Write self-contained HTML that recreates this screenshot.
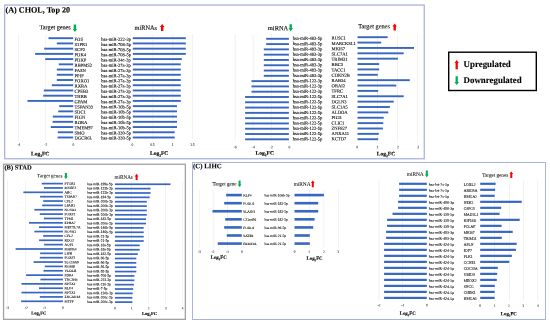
<!DOCTYPE html>
<html><head><meta charset="utf-8"><style>
html,body{margin:0;padding:0;background:#fff;}
body{width:550px;height:324px;position:relative;overflow:hidden;font-family:"Liberation Serif",serif;}
body>div,body>span{position:absolute;}
.t{white-space:nowrap;color:#000;}
</style></head><body>
<svg style="position:absolute;left:0;top:0" width="550" height="324" viewBox="0 0 550 324">
<rect x="4.65" y="5.05" width="419.60" height="153.70" fill="none" stroke="#aab3da" stroke-width="1.3"/>
<rect x="3.55" y="164.25" width="181.80" height="155.10" fill="none" stroke="#a2a2a2" stroke-width="1.3"/>
<rect x="192.50" y="162.50" width="353.00" height="157.00" fill="none" stroke="#aab3da" stroke-width="1"/>
<g transform="translate(72.10,24.40)"><polygon points="2.80,7.50 5.10,4.50 4.00,4.50 4.00,0.00 1.60,0.00 1.60,4.50 0.50,4.50" fill="#00b050"/></g>
<g transform="translate(159.40,24.00)"><polygon points="2.80,0.00 5.10,3.00 4.00,3.00 4.00,6.90 1.60,6.90 1.60,3.00 0.50,3.00" fill="#ff0000"/></g>
<rect x="18.40" y="34.00" width="0.60" height="105.50" fill="#e9e9e9"/>
<rect x="45.50" y="34.00" width="0.60" height="105.50" fill="#e9e9e9"/>
<rect x="152.60" y="34.00" width="0.60" height="105.50" fill="#e9e9e9"/>
<rect x="172.60" y="34.00" width="0.60" height="105.50" fill="#e9e9e9"/>
<rect x="192.10" y="34.00" width="0.60" height="105.50" fill="#e9e9e9"/>
<rect x="48.50" y="37.25" width="24.70" height="1.90" fill="#3767c3"/>
<rect x="132.80" y="37.25" width="53.00" height="1.90" fill="#3767c3"/>
<rect x="56.80" y="42.48" width="16.40" height="1.90" fill="#3767c3"/>
<rect x="132.80" y="42.48" width="53.00" height="1.90" fill="#3767c3"/>
<rect x="44.20" y="47.70" width="29.00" height="1.90" fill="#3767c3"/>
<rect x="132.80" y="47.70" width="53.00" height="1.90" fill="#3767c3"/>
<rect x="35.10" y="52.93" width="38.10" height="1.90" fill="#3767c3"/>
<rect x="132.80" y="52.93" width="53.00" height="1.90" fill="#3767c3"/>
<rect x="45.20" y="58.15" width="28.00" height="1.90" fill="#3767c3"/>
<rect x="132.80" y="58.15" width="49.00" height="1.90" fill="#3767c3"/>
<rect x="58.80" y="63.38" width="14.40" height="1.90" fill="#3767c3"/>
<rect x="132.80" y="63.38" width="48.00" height="1.90" fill="#3767c3"/>
<rect x="56.80" y="68.61" width="16.40" height="1.90" fill="#3767c3"/>
<rect x="132.80" y="68.61" width="48.00" height="1.90" fill="#3767c3"/>
<rect x="56.80" y="73.83" width="16.40" height="1.90" fill="#3767c3"/>
<rect x="132.80" y="73.83" width="48.00" height="1.90" fill="#3767c3"/>
<rect x="56.80" y="79.06" width="16.40" height="1.90" fill="#3767c3"/>
<rect x="132.80" y="79.06" width="48.00" height="1.90" fill="#3767c3"/>
<rect x="51.80" y="84.28" width="21.40" height="1.90" fill="#3767c3"/>
<rect x="132.80" y="84.28" width="48.00" height="1.90" fill="#3767c3"/>
<rect x="43.80" y="89.51" width="29.40" height="1.90" fill="#3767c3"/>
<rect x="132.80" y="89.51" width="48.00" height="1.90" fill="#3767c3"/>
<rect x="43.20" y="94.74" width="30.00" height="1.90" fill="#3767c3"/>
<rect x="132.80" y="94.74" width="48.00" height="1.90" fill="#3767c3"/>
<rect x="27.50" y="99.96" width="45.70" height="1.90" fill="#3767c3"/>
<rect x="132.80" y="99.96" width="48.00" height="1.90" fill="#3767c3"/>
<rect x="59.20" y="105.19" width="14.00" height="1.90" fill="#3767c3"/>
<rect x="132.80" y="105.19" width="44.20" height="1.90" fill="#3767c3"/>
<rect x="58.20" y="110.41" width="15.00" height="1.90" fill="#3767c3"/>
<rect x="132.80" y="110.41" width="44.20" height="1.90" fill="#3767c3"/>
<rect x="52.80" y="115.64" width="20.40" height="1.90" fill="#3767c3"/>
<rect x="132.80" y="115.64" width="44.20" height="1.90" fill="#3767c3"/>
<rect x="52.60" y="120.87" width="20.60" height="1.90" fill="#3767c3"/>
<rect x="132.80" y="120.87" width="44.20" height="1.90" fill="#3767c3"/>
<rect x="50.80" y="126.09" width="22.40" height="1.90" fill="#3767c3"/>
<rect x="132.80" y="126.09" width="44.20" height="1.90" fill="#3767c3"/>
<rect x="57.80" y="131.32" width="15.40" height="1.90" fill="#3767c3"/>
<rect x="132.80" y="131.32" width="41.90" height="1.90" fill="#3767c3"/>
<rect x="57.60" y="136.54" width="15.60" height="1.90" fill="#3767c3"/>
<rect x="132.80" y="136.54" width="41.90" height="1.90" fill="#3767c3"/>
<g transform="translate(287.90,24.20)"><polygon points="2.80,7.10 5.10,4.10 4.00,4.10 4.00,0.00 1.60,0.00 1.60,4.10 0.50,4.10" fill="#00b050"/></g>
<g transform="translate(391.90,23.40)"><polygon points="2.80,0.00 5.10,3.00 4.00,3.00 4.00,7.20 1.60,7.20 1.60,3.00 0.50,3.00" fill="#ff0000"/></g>
<rect x="234.80" y="34.00" width="0.60" height="107.50" fill="#e9e9e9"/>
<rect x="252.80" y="34.00" width="0.60" height="107.50" fill="#e9e9e9"/>
<rect x="270.90" y="34.00" width="0.60" height="107.50" fill="#e9e9e9"/>
<rect x="377.30" y="34.00" width="0.60" height="107.50" fill="#e9e9e9"/>
<rect x="397.40" y="34.00" width="0.60" height="107.50" fill="#e9e9e9"/>
<rect x="417.50" y="34.00" width="0.60" height="107.50" fill="#e9e9e9"/>
<rect x="266.20" y="37.85" width="22.70" height="1.90" fill="#3767c3"/>
<rect x="357.50" y="36.25" width="30.20" height="1.90" fill="#3767c3"/>
<rect x="266.20" y="43.14" width="22.70" height="1.90" fill="#3767c3"/>
<rect x="357.50" y="41.62" width="23.70" height="1.90" fill="#3767c3"/>
<rect x="263.80" y="48.43" width="25.10" height="1.90" fill="#3767c3"/>
<rect x="357.50" y="46.99" width="56.50" height="1.90" fill="#3767c3"/>
<rect x="263.80" y="53.72" width="25.10" height="1.90" fill="#3767c3"/>
<rect x="357.50" y="52.36" width="46.20" height="1.90" fill="#3767c3"/>
<rect x="263.80" y="59.01" width="25.10" height="1.90" fill="#3767c3"/>
<rect x="357.50" y="57.73" width="40.40" height="1.90" fill="#3767c3"/>
<rect x="263.80" y="64.30" width="25.10" height="1.90" fill="#3767c3"/>
<rect x="357.50" y="63.10" width="21.70" height="1.90" fill="#3767c3"/>
<rect x="263.80" y="69.59" width="25.10" height="1.90" fill="#3767c3"/>
<rect x="357.50" y="68.47" width="21.70" height="1.90" fill="#3767c3"/>
<rect x="263.80" y="74.88" width="25.10" height="1.90" fill="#3767c3"/>
<rect x="357.50" y="73.84" width="20.30" height="1.90" fill="#3767c3"/>
<rect x="251.50" y="80.17" width="37.40" height="1.90" fill="#3767c3"/>
<rect x="357.50" y="79.21" width="52.30" height="1.90" fill="#3767c3"/>
<rect x="251.50" y="85.46" width="37.40" height="1.90" fill="#3767c3"/>
<rect x="357.50" y="84.58" width="38.80" height="1.90" fill="#3767c3"/>
<rect x="251.50" y="90.75" width="37.40" height="1.90" fill="#3767c3"/>
<rect x="357.50" y="89.95" width="20.70" height="1.90" fill="#3767c3"/>
<rect x="245.10" y="96.04" width="43.80" height="1.90" fill="#3767c3"/>
<rect x="357.50" y="95.32" width="46.20" height="1.90" fill="#3767c3"/>
<rect x="245.10" y="101.33" width="43.80" height="1.90" fill="#3767c3"/>
<rect x="357.50" y="100.69" width="36.20" height="1.90" fill="#3767c3"/>
<rect x="245.10" y="106.62" width="43.80" height="1.90" fill="#3767c3"/>
<rect x="357.50" y="106.06" width="32.40" height="1.90" fill="#3767c3"/>
<rect x="245.10" y="111.91" width="43.80" height="1.90" fill="#3767c3"/>
<rect x="357.50" y="111.43" width="30.80" height="1.90" fill="#3767c3"/>
<rect x="245.10" y="117.20" width="43.80" height="1.90" fill="#3767c3"/>
<rect x="357.50" y="116.80" width="26.20" height="1.90" fill="#3767c3"/>
<rect x="245.10" y="122.49" width="43.80" height="1.90" fill="#3767c3"/>
<rect x="357.50" y="122.17" width="25.80" height="1.90" fill="#3767c3"/>
<rect x="245.10" y="127.78" width="43.80" height="1.90" fill="#3767c3"/>
<rect x="357.50" y="127.54" width="25.40" height="1.90" fill="#3767c3"/>
<rect x="245.10" y="133.07" width="43.80" height="1.90" fill="#3767c3"/>
<rect x="357.50" y="132.91" width="21.30" height="1.90" fill="#3767c3"/>
<rect x="245.10" y="138.36" width="43.80" height="1.90" fill="#3767c3"/>
<rect x="357.50" y="138.28" width="20.70" height="1.90" fill="#3767c3"/>
<rect x="448.70" y="52.20" width="87.60" height="38.30" fill="none" stroke="#000" stroke-width="1.4"/>
<g transform="translate(454.00,60.00)"><polygon points="2.70,0.00 4.90,3.00 3.85,3.00 3.85,9.30 1.55,9.30 1.55,3.00 0.50,3.00" fill="#ff0000"/></g>
<g transform="translate(453.90,76.20)"><polygon points="2.80,8.90 5.10,5.90 3.95,5.90 3.95,0.00 1.65,0.00 1.65,5.90 0.50,5.90" fill="#00b050"/></g>
<g transform="translate(63.50,173.00)"><polygon points="2.40,6.00 4.30,3.40 3.40,3.40 3.40,0.00 1.40,0.00 1.40,3.40 0.50,3.40" fill="#00b050"/></g>
<g transform="translate(134.20,173.80)"><polygon points="2.40,0.00 4.30,2.60 3.40,2.60 3.40,6.20 1.40,6.20 1.40,2.60 0.50,2.60" fill="#ff0000"/></g>
<rect x="7.40" y="181.00" width="0.60" height="123.50" fill="#e9e9e9"/>
<rect x="25.50" y="181.00" width="0.60" height="123.50" fill="#e9e9e9"/>
<rect x="43.90" y="181.00" width="0.60" height="123.50" fill="#e9e9e9"/>
<rect x="131.30" y="181.00" width="0.60" height="123.50" fill="#e9e9e9"/>
<rect x="147.90" y="181.00" width="0.60" height="123.50" fill="#e9e9e9"/>
<rect x="165.30" y="181.00" width="0.60" height="123.50" fill="#e9e9e9"/>
<rect x="182.30" y="181.00" width="0.60" height="123.50" fill="#e9e9e9"/>
<rect x="41.70" y="182.75" width="21.20" height="1.70" fill="#3767c3"/>
<rect x="114.90" y="183.40" width="55.60" height="1.70" fill="#3767c3"/>
<rect x="44.00" y="187.11" width="18.90" height="1.70" fill="#3767c3"/>
<rect x="114.90" y="187.77" width="35.70" height="1.70" fill="#3767c3"/>
<rect x="23.40" y="191.47" width="39.50" height="1.70" fill="#3767c3"/>
<rect x="114.90" y="192.13" width="35.70" height="1.70" fill="#3767c3"/>
<rect x="40.10" y="195.83" width="22.80" height="1.70" fill="#3767c3"/>
<rect x="114.90" y="196.50" width="34.80" height="1.70" fill="#3767c3"/>
<rect x="43.20" y="200.19" width="19.70" height="1.70" fill="#3767c3"/>
<rect x="114.90" y="200.86" width="31.90" height="1.70" fill="#3767c3"/>
<rect x="42.10" y="204.54" width="20.80" height="1.70" fill="#3767c3"/>
<rect x="114.90" y="205.23" width="31.90" height="1.70" fill="#3767c3"/>
<rect x="34.40" y="208.90" width="28.50" height="1.70" fill="#3767c3"/>
<rect x="114.90" y="209.60" width="31.90" height="1.70" fill="#3767c3"/>
<rect x="39.80" y="213.26" width="23.10" height="1.70" fill="#3767c3"/>
<rect x="114.90" y="213.96" width="31.90" height="1.70" fill="#3767c3"/>
<rect x="43.90" y="217.62" width="19.00" height="1.70" fill="#3767c3"/>
<rect x="114.90" y="218.33" width="31.10" height="1.70" fill="#3767c3"/>
<rect x="29.00" y="221.98" width="33.90" height="1.70" fill="#3767c3"/>
<rect x="114.90" y="222.69" width="31.10" height="1.70" fill="#3767c3"/>
<rect x="39.00" y="226.34" width="23.90" height="1.70" fill="#3767c3"/>
<rect x="114.90" y="227.06" width="28.80" height="1.70" fill="#3767c3"/>
<rect x="34.40" y="230.70" width="28.50" height="1.70" fill="#3767c3"/>
<rect x="114.90" y="231.43" width="28.80" height="1.70" fill="#3767c3"/>
<rect x="43.20" y="235.06" width="19.70" height="1.70" fill="#3767c3"/>
<rect x="114.90" y="235.79" width="28.80" height="1.70" fill="#3767c3"/>
<rect x="39.10" y="239.42" width="23.80" height="1.70" fill="#3767c3"/>
<rect x="114.90" y="240.16" width="28.80" height="1.70" fill="#3767c3"/>
<rect x="44.20" y="243.78" width="18.70" height="1.70" fill="#3767c3"/>
<rect x="114.90" y="244.52" width="24.80" height="1.70" fill="#3767c3"/>
<rect x="15.60" y="248.14" width="47.30" height="1.70" fill="#3767c3"/>
<rect x="114.90" y="248.89" width="24.80" height="1.70" fill="#3767c3"/>
<rect x="40.10" y="252.49" width="22.80" height="1.70" fill="#3767c3"/>
<rect x="114.90" y="253.26" width="22.90" height="1.70" fill="#3767c3"/>
<rect x="39.80" y="256.85" width="23.10" height="1.70" fill="#3767c3"/>
<rect x="114.90" y="257.62" width="21.40" height="1.70" fill="#3767c3"/>
<rect x="33.60" y="261.21" width="29.30" height="1.70" fill="#3767c3"/>
<rect x="114.90" y="261.99" width="21.40" height="1.70" fill="#3767c3"/>
<rect x="44.90" y="265.57" width="18.00" height="1.70" fill="#3767c3"/>
<rect x="114.90" y="266.35" width="21.40" height="1.70" fill="#3767c3"/>
<rect x="43.50" y="269.93" width="19.40" height="1.70" fill="#3767c3"/>
<rect x="114.90" y="270.72" width="21.40" height="1.70" fill="#3767c3"/>
<rect x="26.10" y="274.29" width="36.80" height="1.70" fill="#3767c3"/>
<rect x="114.90" y="275.09" width="19.50" height="1.70" fill="#3767c3"/>
<rect x="40.40" y="278.65" width="22.50" height="1.70" fill="#3767c3"/>
<rect x="114.90" y="279.45" width="19.50" height="1.70" fill="#3767c3"/>
<rect x="21.50" y="283.01" width="41.40" height="1.70" fill="#3767c3"/>
<rect x="114.90" y="283.82" width="19.00" height="1.70" fill="#3767c3"/>
<rect x="39.00" y="287.37" width="23.90" height="1.70" fill="#3767c3"/>
<rect x="114.90" y="288.18" width="18.30" height="1.70" fill="#3767c3"/>
<rect x="21.50" y="291.72" width="41.40" height="1.70" fill="#3767c3"/>
<rect x="114.90" y="292.55" width="17.80" height="1.70" fill="#3767c3"/>
<rect x="39.80" y="296.08" width="23.10" height="1.70" fill="#3767c3"/>
<rect x="114.90" y="296.92" width="17.50" height="1.70" fill="#3767c3"/>
<rect x="21.10" y="300.44" width="41.80" height="1.70" fill="#3767c3"/>
<rect x="114.90" y="301.28" width="17.50" height="1.70" fill="#3767c3"/>
<g transform="translate(237.20,180.50)"><polygon points="2.40,6.50 4.30,3.90 3.40,3.90 3.40,0.00 1.40,0.00 1.40,3.90 0.50,3.90" fill="#00b050"/></g>
<g transform="translate(310.40,180.50)"><polygon points="2.40,0.00 4.30,2.60 3.40,2.60 3.40,6.70 1.40,6.70 1.40,2.60 0.50,2.60" fill="#ff0000"/></g>
<rect x="199.20" y="190.00" width="0.60" height="58.00" fill="#e9e9e9"/>
<rect x="212.80" y="190.00" width="0.60" height="58.00" fill="#e9e9e9"/>
<rect x="227.30" y="190.00" width="0.60" height="58.00" fill="#e9e9e9"/>
<rect x="308.90" y="190.00" width="0.60" height="58.00" fill="#e9e9e9"/>
<rect x="323.60" y="190.00" width="0.60" height="58.00" fill="#e9e9e9"/>
<rect x="338.00" y="190.00" width="0.60" height="58.00" fill="#e9e9e9"/>
<rect x="226.20" y="193.80" width="15.60" height="2.60" fill="#3767c3"/>
<rect x="294.50" y="193.80" width="29.40" height="2.60" fill="#3767c3"/>
<rect x="224.20" y="201.88" width="17.60" height="2.60" fill="#3767c3"/>
<rect x="294.50" y="201.88" width="23.70" height="2.60" fill="#3767c3"/>
<rect x="212.50" y="209.96" width="29.30" height="2.60" fill="#3767c3"/>
<rect x="294.50" y="209.96" width="23.70" height="2.60" fill="#3767c3"/>
<rect x="225.20" y="218.04" width="16.60" height="2.60" fill="#3767c3"/>
<rect x="294.50" y="218.04" width="20.10" height="2.60" fill="#3767c3"/>
<rect x="224.20" y="226.12" width="17.60" height="2.60" fill="#3767c3"/>
<rect x="294.50" y="226.12" width="18.70" height="2.60" fill="#3767c3"/>
<rect x="226.80" y="234.20" width="15.00" height="2.60" fill="#3767c3"/>
<rect x="294.50" y="234.20" width="15.30" height="2.60" fill="#3767c3"/>
<rect x="217.70" y="242.28" width="24.10" height="2.60" fill="#3767c3"/>
<rect x="294.50" y="242.28" width="15.30" height="2.60" fill="#3767c3"/>
<g transform="translate(424.40,170.50)"><polygon points="2.40,6.70 4.30,4.10 3.40,4.10 3.40,0.00 1.40,0.00 1.40,4.10 0.50,4.10" fill="#00b050"/></g>
<g transform="translate(508.90,171.50)"><polygon points="2.40,0.00 4.30,2.60 3.40,2.60 3.40,6.50 1.40,6.50 1.40,2.60 0.50,2.60" fill="#ff0000"/></g>
<rect x="378.70" y="180.00" width="0.60" height="121.00" fill="#e9e9e9"/>
<rect x="402.40" y="180.00" width="0.60" height="121.00" fill="#e9e9e9"/>
<rect x="494.30" y="180.00" width="0.60" height="121.00" fill="#e9e9e9"/>
<rect x="509.00" y="180.00" width="0.60" height="121.00" fill="#e9e9e9"/>
<rect x="523.00" y="180.00" width="0.60" height="121.00" fill="#e9e9e9"/>
<rect x="537.50" y="180.00" width="0.60" height="121.00" fill="#e9e9e9"/>
<rect x="399.10" y="182.70" width="27.70" height="2.20" fill="#3767c3"/>
<rect x="480.20" y="182.70" width="15.40" height="2.20" fill="#3767c3"/>
<rect x="399.10" y="188.71" width="27.70" height="2.20" fill="#3767c3"/>
<rect x="480.20" y="188.71" width="15.00" height="2.20" fill="#3767c3"/>
<rect x="399.10" y="194.71" width="27.70" height="2.20" fill="#3767c3"/>
<rect x="480.20" y="194.71" width="14.40" height="2.20" fill="#3767c3"/>
<rect x="398.10" y="200.72" width="28.70" height="2.20" fill="#3767c3"/>
<rect x="480.20" y="200.72" width="41.50" height="2.20" fill="#3767c3"/>
<rect x="398.10" y="206.72" width="28.70" height="2.20" fill="#3767c3"/>
<rect x="480.20" y="206.72" width="21.00" height="2.20" fill="#3767c3"/>
<rect x="392.50" y="212.73" width="34.30" height="2.20" fill="#3767c3"/>
<rect x="480.20" y="212.73" width="19.40" height="2.20" fill="#3767c3"/>
<rect x="387.10" y="218.73" width="39.70" height="2.20" fill="#3767c3"/>
<rect x="480.20" y="218.73" width="39.50" height="2.20" fill="#3767c3"/>
<rect x="387.10" y="224.74" width="39.70" height="2.20" fill="#3767c3"/>
<rect x="480.20" y="224.74" width="21.40" height="2.20" fill="#3767c3"/>
<rect x="386.10" y="230.74" width="40.70" height="2.20" fill="#3767c3"/>
<rect x="480.20" y="230.74" width="32.50" height="2.20" fill="#3767c3"/>
<rect x="386.10" y="236.75" width="40.70" height="2.20" fill="#3767c3"/>
<rect x="480.20" y="236.75" width="21.60" height="2.20" fill="#3767c3"/>
<rect x="384.10" y="242.75" width="42.70" height="2.20" fill="#3767c3"/>
<rect x="480.20" y="242.75" width="36.50" height="2.20" fill="#3767c3"/>
<rect x="384.10" y="248.76" width="42.70" height="2.20" fill="#3767c3"/>
<rect x="480.20" y="248.76" width="35.70" height="2.20" fill="#3767c3"/>
<rect x="384.10" y="254.76" width="42.70" height="2.20" fill="#3767c3"/>
<rect x="480.20" y="254.76" width="31.70" height="2.20" fill="#3767c3"/>
<rect x="384.10" y="260.76" width="42.70" height="2.20" fill="#3767c3"/>
<rect x="480.20" y="260.76" width="29.10" height="2.20" fill="#3767c3"/>
<rect x="384.10" y="266.77" width="42.70" height="2.20" fill="#3767c3"/>
<rect x="480.20" y="266.77" width="17.60" height="2.20" fill="#3767c3"/>
<rect x="384.10" y="272.77" width="42.70" height="2.20" fill="#3767c3"/>
<rect x="480.20" y="272.77" width="17.00" height="2.20" fill="#3767c3"/>
<rect x="384.10" y="278.78" width="42.70" height="2.20" fill="#3767c3"/>
<rect x="480.20" y="278.78" width="16.60" height="2.20" fill="#3767c3"/>
<rect x="384.10" y="284.78" width="42.70" height="2.20" fill="#3767c3"/>
<rect x="480.20" y="284.78" width="14.60" height="2.20" fill="#3767c3"/>
<rect x="384.10" y="290.79" width="42.70" height="2.20" fill="#3767c3"/>
<rect x="480.20" y="290.79" width="14.40" height="2.20" fill="#3767c3"/>
<rect x="384.10" y="296.79" width="42.70" height="2.20" fill="#3767c3"/>
<rect x="480.20" y="296.79" width="14.40" height="2.20" fill="#3767c3"/>
</svg>
<svg style="position:absolute;left:0;top:0;filter:grayscale(1)" width="550" height="324" viewBox="0 0 550 324" font-family="Liberation Serif" stroke="#000" stroke-width="0.12">
<text x="5.50" y="12.49" font-size="8.15" font-weight="bold" transform="rotate(0.05 5.5 12.5)">(A) CHOL, Top 20</text>
<text x="39.50" y="29.35" font-size="6.2" transform="rotate(0.05 39.5 29.3)">Target genes</text>
<text x="134.60" y="29.87" font-size="6.27" transform="rotate(0.05 134.6 29.9)">miRNAs</text>
<text x="74.60" y="40.71" font-size="4.55" stroke-width="0.1" transform="rotate(0.05 74.6 40.7)">FOS</text>
<text x="101.30" y="40.70" font-size="4.53" stroke-width="0.1" transform="rotate(0.05 101.3 40.7)">hsa-miR-222-3p</text>
<text x="74.60" y="45.92" font-size="4.55" stroke-width="0.1" transform="rotate(0.05 74.6 45.9)">S1PR1</text>
<text x="101.30" y="45.91" font-size="4.53" stroke-width="0.1" transform="rotate(0.05 101.3 45.9)">hsa-miR-708-5p</text>
<text x="74.60" y="51.12" font-size="4.55" stroke-width="0.1" transform="rotate(0.05 74.6 51.1)">SCP2</text>
<text x="101.30" y="51.11" font-size="4.53" stroke-width="0.1" transform="rotate(0.05 101.3 51.1)">hsa-miR-708-5p</text>
<text x="74.60" y="56.33" font-size="4.55" stroke-width="0.1" transform="rotate(0.05 74.6 56.3)">PDK4</text>
<text x="101.30" y="56.32" font-size="4.53" stroke-width="0.1" transform="rotate(0.05 101.3 56.3)">hsa-miR-708-5p</text>
<text x="74.60" y="61.53" font-size="4.55" stroke-width="0.1" transform="rotate(0.05 74.6 61.5)">PDXP</text>
<text x="101.30" y="61.52" font-size="4.53" stroke-width="0.1" transform="rotate(0.05 101.3 61.5)">hsa-miR-34c-3p</text>
<text x="74.60" y="66.74" font-size="4.55" stroke-width="0.1" transform="rotate(0.05 74.6 66.7)">RBPMS2</text>
<text x="101.30" y="66.73" font-size="4.53" stroke-width="0.1" transform="rotate(0.05 101.3 66.7)">hsa-miR-27a-3p</text>
<text x="74.60" y="71.94" font-size="4.55" stroke-width="0.1" transform="rotate(0.05 74.6 71.9)">FASN</text>
<text x="101.30" y="71.93" font-size="4.53" stroke-width="0.1" transform="rotate(0.05 101.3 71.9)">hsa-miR-27a-3p</text>
<text x="74.60" y="77.15" font-size="4.55" stroke-width="0.1" transform="rotate(0.05 74.6 77.1)">PPIF</text>
<text x="101.30" y="77.14" font-size="4.53" stroke-width="0.1" transform="rotate(0.05 101.3 77.1)">hsa-miR-27a-3p</text>
<text x="74.60" y="82.35" font-size="4.55" stroke-width="0.1" transform="rotate(0.05 74.6 82.4)">FOXO1</text>
<text x="101.30" y="82.34" font-size="4.53" stroke-width="0.1" transform="rotate(0.05 101.3 82.3)">hsa-miR-27a-3p</text>
<text x="74.60" y="87.56" font-size="4.55" stroke-width="0.1" transform="rotate(0.05 74.6 87.6)">RXRA</text>
<text x="101.30" y="87.55" font-size="4.53" stroke-width="0.1" transform="rotate(0.05 101.3 87.5)">hsa-miR-27a-3p</text>
<text x="74.60" y="92.76" font-size="4.55" stroke-width="0.1" transform="rotate(0.05 74.6 92.8)">CPEB3</text>
<text x="101.30" y="92.75" font-size="4.53" stroke-width="0.1" transform="rotate(0.05 101.3 92.8)">hsa-miR-27a-3p</text>
<text x="74.60" y="97.97" font-size="4.55" stroke-width="0.1" transform="rotate(0.05 74.6 98.0)">THRB</text>
<text x="101.30" y="97.96" font-size="4.53" stroke-width="0.1" transform="rotate(0.05 101.3 98.0)">hsa-miR-27a-3p</text>
<text x="74.60" y="103.17" font-size="4.55" stroke-width="0.1" transform="rotate(0.05 74.6 103.2)">GPAM</text>
<text x="101.30" y="103.16" font-size="4.53" stroke-width="0.1" transform="rotate(0.05 101.3 103.2)">hsa-miR-27a-3p</text>
<text x="74.60" y="108.38" font-size="4.55" stroke-width="0.1" transform="rotate(0.05 74.6 108.4)">TSPAN33</text>
<text x="101.30" y="108.37" font-size="4.53" stroke-width="0.1" transform="rotate(0.05 101.3 108.4)">hsa-miR-10b-5p</text>
<text x="74.60" y="113.58" font-size="4.55" stroke-width="0.1" transform="rotate(0.05 74.6 113.6)">SDC1</text>
<text x="101.30" y="113.57" font-size="4.53" stroke-width="0.1" transform="rotate(0.05 101.3 113.6)">hsa-miR-10b-5p</text>
<text x="74.60" y="118.79" font-size="4.55" stroke-width="0.1" transform="rotate(0.05 74.6 118.8)">FIGN</text>
<text x="101.30" y="118.78" font-size="4.53" stroke-width="0.1" transform="rotate(0.05 101.3 118.8)">hsa-miR-10b-5p</text>
<text x="74.60" y="123.99" font-size="4.55" stroke-width="0.1" transform="rotate(0.05 74.6 124.0)">RORA</text>
<text x="101.30" y="123.98" font-size="4.53" stroke-width="0.1" transform="rotate(0.05 101.3 124.0)">hsa-miR-10b-5p</text>
<text x="74.60" y="129.20" font-size="4.55" stroke-width="0.1" transform="rotate(0.05 74.6 129.2)">TMEM97</text>
<text x="101.30" y="129.19" font-size="4.53" stroke-width="0.1" transform="rotate(0.05 101.3 129.2)">hsa-miR-10b-5p</text>
<text x="74.60" y="134.40" font-size="4.55" stroke-width="0.1" transform="rotate(0.05 74.6 134.4)">SMO</text>
<text x="101.30" y="134.39" font-size="4.53" stroke-width="0.1" transform="rotate(0.05 101.3 134.4)">hsa-miR-330-5p</text>
<text x="74.60" y="139.61" font-size="4.55" stroke-width="0.1" transform="rotate(0.05 74.6 139.6)">DGCR6L</text>
<text x="101.30" y="139.60" font-size="4.53" stroke-width="0.1" transform="rotate(0.05 101.3 139.6)">hsa-miR-330-5p</text>
<text x="18.70" y="145.89" font-size="3.6" text-anchor="middle" fill="#444" stroke="#444" transform="rotate(0.05 18.7 145.9)">-4</text>
<text x="45.80" y="145.89" font-size="3.6" text-anchor="middle" fill="#444" stroke="#444" transform="rotate(0.05 45.8 145.9)">-2</text>
<text x="73.30" y="145.89" font-size="3.6" text-anchor="middle" fill="#444" stroke="#444" transform="rotate(0.05 73.3 145.9)">0</text>
<text x="132.50" y="145.89" font-size="3.6" text-anchor="middle" fill="#444" stroke="#444" transform="rotate(0.05 132.5 145.9)">0</text>
<text x="152.40" y="145.89" font-size="3.6" text-anchor="middle" fill="#444" stroke="#444" transform="rotate(0.05 152.4 145.9)">0.5</text>
<text x="172.60" y="145.89" font-size="3.6" text-anchor="middle" fill="#444" stroke="#444" transform="rotate(0.05 172.6 145.9)">1</text>
<text x="192.40" y="145.89" font-size="3.6" text-anchor="middle" fill="#444" stroke="#444" transform="rotate(0.05 192.4 145.9)">1.5</text>
<text x="31.00" y="155.41" font-size="5.5" font-weight="bold" transform="rotate(0.05 31.0 155.4)">Log<tspan font-size="3.63" dy="1.65">2</tspan><tspan dy="-1.65">FC</tspan></text>
<text x="150.00" y="155.01" font-size="5.5" font-weight="bold" transform="rotate(0.05 150.0 155.0)">Log<tspan font-size="3.63" dy="1.65">2</tspan><tspan dy="-1.65">FC</tspan></text>
<text x="267.80" y="30.14" font-size="6.47" transform="rotate(0.05 267.8 30.1)">miRNA</text>
<text x="358.20" y="28.27" font-size="6.28" transform="rotate(0.05 358.2 28.3)">Target genes</text>
<text x="292.70" y="39.85" font-size="4.53" stroke-width="0.1" transform="rotate(0.05 292.7 39.9)">hsa-miR-483-5p</text>
<text x="331.60" y="39.61" font-size="4.55" stroke-width="0.1" transform="rotate(0.05 331.6 39.6)">RUSC1</text>
<text x="292.70" y="45.14" font-size="4.53" stroke-width="0.1" transform="rotate(0.05 292.7 45.1)">hsa-miR-483-5p</text>
<text x="331.60" y="44.91" font-size="4.55" stroke-width="0.1" transform="rotate(0.05 331.6 44.9)">MARCKSL1</text>
<text x="292.70" y="50.43" font-size="4.53" stroke-width="0.1" transform="rotate(0.05 292.7 50.4)">hsa-miR-483-3p</text>
<text x="331.60" y="50.21" font-size="4.55" stroke-width="0.1" transform="rotate(0.05 331.6 50.2)">MKI67</text>
<text x="292.70" y="55.72" font-size="4.53" stroke-width="0.1" transform="rotate(0.05 292.7 55.7)">hsa-miR-483-3p</text>
<text x="331.60" y="55.51" font-size="4.55" stroke-width="0.1" transform="rotate(0.05 331.6 55.5)">SLC7A1</text>
<text x="292.70" y="61.01" font-size="4.53" stroke-width="0.1" transform="rotate(0.05 292.7 61.0)">hsa-miR-483-3p</text>
<text x="331.60" y="60.81" font-size="4.55" stroke-width="0.1" transform="rotate(0.05 331.6 60.8)">TRIM31</text>
<text x="292.70" y="66.30" font-size="4.53" stroke-width="0.1" transform="rotate(0.05 292.7 66.3)">hsa-miR-483-3p</text>
<text x="331.60" y="66.11" font-size="4.55" stroke-width="0.1" transform="rotate(0.05 331.6 66.1)">BBC3</text>
<text x="292.70" y="71.59" font-size="4.53" stroke-width="0.1" transform="rotate(0.05 292.7 71.6)">hsa-miR-483-3p</text>
<text x="331.60" y="71.41" font-size="4.55" stroke-width="0.1" transform="rotate(0.05 331.6 71.4)">TACC1</text>
<text x="292.70" y="76.88" font-size="4.53" stroke-width="0.1" transform="rotate(0.05 292.7 76.9)">hsa-miR-483-3p</text>
<text x="331.60" y="76.71" font-size="4.55" stroke-width="0.1" transform="rotate(0.05 331.6 76.7)">CDKN2B</text>
<text x="292.70" y="82.17" font-size="4.53" stroke-width="0.1" transform="rotate(0.05 292.7 82.2)">hsa-miR-122-3p</text>
<text x="331.60" y="82.01" font-size="4.55" stroke-width="0.1" transform="rotate(0.05 331.6 82.0)">RAB34</text>
<text x="292.70" y="87.46" font-size="4.53" stroke-width="0.1" transform="rotate(0.05 292.7 87.5)">hsa-miR-122-3p</text>
<text x="331.60" y="87.31" font-size="4.55" stroke-width="0.1" transform="rotate(0.05 331.6 87.3)">ORAI2</text>
<text x="292.70" y="92.75" font-size="4.53" stroke-width="0.1" transform="rotate(0.05 292.7 92.8)">hsa-miR-122-3p</text>
<text x="331.60" y="92.61" font-size="4.55" stroke-width="0.1" transform="rotate(0.05 331.6 92.6)">TFRC</text>
<text x="292.70" y="98.04" font-size="4.53" stroke-width="0.1" transform="rotate(0.05 292.7 98.0)">hsa-miR-122-5p</text>
<text x="331.60" y="97.91" font-size="4.55" stroke-width="0.1" transform="rotate(0.05 331.6 97.9)">SLC7A1</text>
<text x="292.70" y="103.33" font-size="4.53" stroke-width="0.1" transform="rotate(0.05 292.7 103.3)">hsa-miR-122-5p</text>
<text x="331.60" y="103.21" font-size="4.55" stroke-width="0.1" transform="rotate(0.05 331.6 103.2)">DGLN3</text>
<text x="292.70" y="108.62" font-size="4.53" stroke-width="0.1" transform="rotate(0.05 292.7 108.6)">hsa-miR-122-5p</text>
<text x="331.60" y="108.51" font-size="4.55" stroke-width="0.1" transform="rotate(0.05 331.6 108.5)">SLC1A5</text>
<text x="292.70" y="113.91" font-size="4.53" stroke-width="0.1" transform="rotate(0.05 292.7 113.9)">hsa-miR-122-5p</text>
<text x="331.60" y="113.81" font-size="4.55" stroke-width="0.1" transform="rotate(0.05 331.6 113.8)">ALDOA</text>
<text x="292.70" y="119.20" font-size="4.53" stroke-width="0.1" transform="rotate(0.05 292.7 119.2)">hsa-miR-122-5p</text>
<text x="331.60" y="119.11" font-size="4.55" stroke-width="0.1" transform="rotate(0.05 331.6 119.1)">PIGS</text>
<text x="292.70" y="124.49" font-size="4.53" stroke-width="0.1" transform="rotate(0.05 292.7 124.5)">hsa-miR-122-5p</text>
<text x="331.60" y="124.41" font-size="4.55" stroke-width="0.1" transform="rotate(0.05 331.6 124.4)">CLIC1</text>
<text x="292.70" y="129.78" font-size="4.53" stroke-width="0.1" transform="rotate(0.05 292.7 129.8)">hsa-miR-122-5p</text>
<text x="331.60" y="129.71" font-size="4.55" stroke-width="0.1" transform="rotate(0.05 331.6 129.7)">ZNF827</text>
<text x="292.70" y="135.07" font-size="4.53" stroke-width="0.1" transform="rotate(0.05 292.7 135.1)">hsa-miR-122-5p</text>
<text x="331.60" y="135.01" font-size="4.55" stroke-width="0.1" transform="rotate(0.05 331.6 135.0)">ANXA11</text>
<text x="292.70" y="140.36" font-size="4.53" stroke-width="0.1" transform="rotate(0.05 292.7 140.4)">hsa-miR-122-5p</text>
<text x="331.60" y="140.31" font-size="4.55" stroke-width="0.1" transform="rotate(0.05 331.6 140.3)">KCTD7</text>
<text x="235.10" y="148.19" font-size="3.6" text-anchor="middle" fill="#444" stroke="#444" transform="rotate(0.05 235.1 148.2)">-6</text>
<text x="253.20" y="148.19" font-size="3.6" text-anchor="middle" fill="#444" stroke="#444" transform="rotate(0.05 253.2 148.2)">-4</text>
<text x="271.20" y="148.19" font-size="3.6" text-anchor="middle" fill="#444" stroke="#444" transform="rotate(0.05 271.2 148.2)">-2</text>
<text x="289.30" y="148.19" font-size="3.6" text-anchor="middle" fill="#444" stroke="#444" transform="rotate(0.05 289.3 148.2)">0</text>
<text x="357.20" y="148.19" font-size="3.6" text-anchor="middle" fill="#444" stroke="#444" transform="rotate(0.05 357.2 148.2)">0</text>
<text x="377.40" y="148.19" font-size="3.6" text-anchor="middle" fill="#444" stroke="#444" transform="rotate(0.05 377.4 148.2)">1</text>
<text x="397.90" y="148.19" font-size="3.6" text-anchor="middle" fill="#444" stroke="#444" transform="rotate(0.05 397.9 148.2)">2</text>
<text x="418.20" y="148.19" font-size="3.6" text-anchor="middle" fill="#444" stroke="#444" transform="rotate(0.05 418.2 148.2)">3</text>
<text x="255.60" y="154.72" font-size="5.5" font-weight="bold" transform="rotate(0.05 255.6 154.7)">Log<tspan font-size="3.63" dy="1.65">2</tspan><tspan dy="-1.65">FC</tspan></text>
<text x="376.80" y="155.62" font-size="5.5" font-weight="bold" transform="rotate(0.05 376.8 155.6)">Log<tspan font-size="3.63" dy="1.65">2</tspan><tspan dy="-1.65">FC</tspan></text>
<text x="463.60" y="66.94" font-size="8.9" font-weight="bold" transform="rotate(0.05 463.6 66.9)">Upregulated</text>
<text x="463.60" y="82.94" font-size="8.9" font-weight="bold" transform="rotate(0.05 463.6 82.9)">Downregulated</text>
<text x="4.40" y="169.56" font-size="6.54" font-weight="bold" transform="rotate(0.05 4.4 169.6)">(B) STAD</text>
<text x="37.10" y="177.37" font-size="5.05" stroke-width="0.05" transform="rotate(0.05 37.1 177.4)">Target genes</text>
<text x="114.60" y="178.70" font-size="5.15" stroke-width="0.05" transform="rotate(0.05 114.6 178.7)">miRNAs</text>
<text x="64.60" y="184.75" font-size="3.5" stroke-width="0.09" transform="rotate(0.05 64.6 184.8)">PTGR1</text>
<text x="87.20" y="185.13" font-size="3.64" stroke-width="0.09" transform="rotate(0.05 87.2 185.1)">hsa-miR-199a-5p</text>
<text x="64.60" y="189.11" font-size="3.5" stroke-width="0.09" transform="rotate(0.05 64.6 189.1)">MYEF2</text>
<text x="87.20" y="189.49" font-size="3.64" stroke-width="0.09" transform="rotate(0.05 87.2 189.5)">hsa-miR-133b-3p</text>
<text x="64.60" y="193.47" font-size="3.5" stroke-width="0.09" transform="rotate(0.05 64.6 193.5)">ABC</text>
<text x="87.20" y="193.85" font-size="3.64" stroke-width="0.09" transform="rotate(0.05 87.2 193.9)">hsa-miR-133b-3p</text>
<text x="64.60" y="197.83" font-size="3.5" stroke-width="0.09" transform="rotate(0.05 64.6 197.8)">TSPAN7</text>
<text x="87.20" y="198.21" font-size="3.64" stroke-width="0.09" transform="rotate(0.05 87.2 198.2)">hsa-miR-194-5p</text>
<text x="64.60" y="202.19" font-size="3.5" stroke-width="0.09" transform="rotate(0.05 64.6 202.2)">CFL2</text>
<text x="87.20" y="202.58" font-size="3.64" stroke-width="0.09" transform="rotate(0.05 87.2 202.6)">hsa-miR-200b-3p</text>
<text x="64.60" y="206.55" font-size="3.5" stroke-width="0.09" transform="rotate(0.05 64.6 206.5)">LPAR1</text>
<text x="87.20" y="206.94" font-size="3.64" stroke-width="0.09" transform="rotate(0.05 87.2 206.9)">hsa-miR-200b-3p</text>
<text x="64.60" y="210.91" font-size="3.5" stroke-width="0.09" transform="rotate(0.05 64.6 210.9)">NOVA1</text>
<text x="87.20" y="211.30" font-size="3.64" stroke-width="0.09" transform="rotate(0.05 87.2 211.3)">hsa-miR-200b-3p</text>
<text x="64.60" y="215.27" font-size="3.5" stroke-width="0.09" transform="rotate(0.05 64.6 215.3)">FOXF2</text>
<text x="87.20" y="215.66" font-size="3.64" stroke-width="0.09" transform="rotate(0.05 87.2 215.7)">hsa-miR-200b-3p</text>
<text x="64.60" y="219.63" font-size="3.5" stroke-width="0.09" transform="rotate(0.05 64.6 219.6)">TPM1</text>
<text x="87.20" y="220.03" font-size="3.64" stroke-width="0.09" transform="rotate(0.05 87.2 220.0)">hsa-miR-183-5p</text>
<text x="64.60" y="223.99" font-size="3.5" stroke-width="0.09" transform="rotate(0.05 64.6 224.0)">EPHA7</text>
<text x="87.20" y="224.39" font-size="3.64" stroke-width="0.09" transform="rotate(0.05 87.2 224.4)">hsa-miR-200a-3p</text>
<text x="64.60" y="228.34" font-size="3.5" stroke-width="0.09" transform="rotate(0.05 64.6 228.3)">METTL7A</text>
<text x="87.20" y="228.75" font-size="3.64" stroke-width="0.09" transform="rotate(0.05 87.2 228.8)">hsa-miR-146b-5p</text>
<text x="64.60" y="232.70" font-size="3.5" stroke-width="0.09" transform="rotate(0.05 64.6 232.7)">NOVA1</text>
<text x="87.20" y="233.11" font-size="3.64" stroke-width="0.09" transform="rotate(0.05 87.2 233.1)">hsa-miR-146b-5p</text>
<text x="64.60" y="237.06" font-size="3.5" stroke-width="0.09" transform="rotate(0.05 64.6 237.1)">CFL2</text>
<text x="87.20" y="237.48" font-size="3.64" stroke-width="0.09" transform="rotate(0.05 87.2 237.5)">hsa-miR-21-5p</text>
<text x="64.60" y="241.42" font-size="3.5" stroke-width="0.09" transform="rotate(0.05 64.6 241.4)">RDG2</text>
<text x="87.20" y="241.84" font-size="3.64" stroke-width="0.09" transform="rotate(0.05 87.2 241.8)">hsa-miR-21-5p</text>
<text x="64.60" y="245.78" font-size="3.5" stroke-width="0.09" transform="rotate(0.05 64.6 245.8)">AQP1</text>
<text x="87.20" y="246.20" font-size="3.64" stroke-width="0.09" transform="rotate(0.05 87.2 246.2)">hsa-miR-18a-5p</text>
<text x="64.60" y="250.14" font-size="3.5" stroke-width="0.09" transform="rotate(0.05 64.6 250.1)">MAPK4</text>
<text x="87.20" y="250.56" font-size="3.64" stroke-width="0.09" transform="rotate(0.05 87.2 250.6)">hsa-miR-18a-5p</text>
<text x="64.60" y="254.50" font-size="3.5" stroke-width="0.09" transform="rotate(0.05 64.6 254.5)">LIFR</text>
<text x="87.20" y="254.93" font-size="3.64" stroke-width="0.09" transform="rotate(0.05 87.2 254.9)">hsa-miR-182-5p</text>
<text x="64.60" y="258.86" font-size="3.5" stroke-width="0.09" transform="rotate(0.05 64.6 258.9)">FOXF2</text>
<text x="87.20" y="259.29" font-size="3.64" stroke-width="0.09" transform="rotate(0.05 87.2 259.3)">hsa-miR-96-5p</text>
<text x="64.60" y="263.22" font-size="3.5" stroke-width="0.09" transform="rotate(0.05 64.6 263.2)">SLC16A9</text>
<text x="87.20" y="263.65" font-size="3.64" stroke-width="0.09" transform="rotate(0.05 87.2 263.7)">hsa-miR-96-5p</text>
<text x="64.60" y="267.58" font-size="3.5" stroke-width="0.09" transform="rotate(0.05 64.6 267.6)">RGMB</text>
<text x="87.20" y="268.01" font-size="3.64" stroke-width="0.09" transform="rotate(0.05 87.2 268.0)">hsa-miR-93-5p</text>
<text x="64.60" y="271.93" font-size="3.5" stroke-width="0.09" transform="rotate(0.05 64.6 271.9)">VLDLR</text>
<text x="87.20" y="272.38" font-size="3.64" stroke-width="0.09" transform="rotate(0.05 87.2 272.4)">hsa-miR-93-5p</text>
<text x="64.60" y="276.29" font-size="3.5" stroke-width="0.09" transform="rotate(0.05 64.6 276.3)">PDK4</text>
<text x="87.20" y="276.74" font-size="3.64" stroke-width="0.09" transform="rotate(0.05 87.2 276.7)">hsa-miR-708-5p</text>
<text x="64.60" y="280.65" font-size="3.5" stroke-width="0.09" transform="rotate(0.05 64.6 280.7)">TNC2H4</text>
<text x="87.20" y="281.10" font-size="3.64" stroke-width="0.09" transform="rotate(0.05 87.2 281.1)">hsa-miR-223-3p</text>
<text x="64.60" y="285.01" font-size="3.5" stroke-width="0.09" transform="rotate(0.05 64.6 285.0)">NPTX1</text>
<text x="87.20" y="285.46" font-size="3.64" stroke-width="0.09" transform="rotate(0.05 87.2 285.5)">hsa-miR-210-3p</text>
<text x="64.60" y="289.37" font-size="3.5" stroke-width="0.09" transform="rotate(0.05 64.6 289.4)">KLF4</text>
<text x="87.20" y="289.83" font-size="3.64" stroke-width="0.09" transform="rotate(0.05 87.2 289.8)">hsa-miR-7-5p</text>
<text x="64.60" y="293.73" font-size="3.5" stroke-width="0.09" transform="rotate(0.05 64.6 293.7)">NPTX1</text>
<text x="87.20" y="294.19" font-size="3.64" stroke-width="0.09" transform="rotate(0.05 87.2 294.2)">hsa-miR-130b-3p</text>
<text x="64.60" y="298.09" font-size="3.5" stroke-width="0.09" transform="rotate(0.05 64.6 298.1)">ZNCAN18</text>
<text x="87.20" y="298.55" font-size="3.64" stroke-width="0.09" transform="rotate(0.05 87.2 298.6)">hsa-miR-200c-3p</text>
<text x="64.60" y="302.45" font-size="3.5" stroke-width="0.09" transform="rotate(0.05 64.6 302.4)">MTFP</text>
<text x="87.20" y="302.91" font-size="3.64" stroke-width="0.09" transform="rotate(0.05 87.2 302.9)">hsa-miR-200c-3p</text>
<text x="7.70" y="308.69" font-size="3.3" text-anchor="middle" fill="#444" stroke="#444" transform="rotate(0.05 7.7 308.7)">-3</text>
<text x="26.30" y="308.69" font-size="3.3" text-anchor="middle" fill="#444" stroke="#444" transform="rotate(0.05 26.3 308.7)">-2</text>
<text x="44.60" y="308.69" font-size="3.3" text-anchor="middle" fill="#444" stroke="#444" transform="rotate(0.05 44.6 308.7)">-1</text>
<text x="62.80" y="308.69" font-size="3.3" text-anchor="middle" fill="#444" stroke="#444" transform="rotate(0.05 62.8 308.7)">0</text>
<text x="114.90" y="309.39" font-size="3.3" text-anchor="middle" fill="#444" stroke="#444" transform="rotate(0.05 114.9 309.4)">0</text>
<text x="131.60" y="309.39" font-size="3.3" text-anchor="middle" fill="#444" stroke="#444" transform="rotate(0.05 131.6 309.4)">1</text>
<text x="148.60" y="309.39" font-size="3.3" text-anchor="middle" fill="#444" stroke="#444" transform="rotate(0.05 148.6 309.4)">2</text>
<text x="165.90" y="309.39" font-size="3.3" text-anchor="middle" fill="#444" stroke="#444" transform="rotate(0.05 165.9 309.4)">3</text>
<text x="182.60" y="309.39" font-size="3.3" text-anchor="middle" fill="#444" stroke="#444" transform="rotate(0.05 182.6 309.4)">4</text>
<text x="31.30" y="314.49" font-size="4.5" font-weight="bold" transform="rotate(0.05 31.3 314.5)">Log<tspan font-size="2.97" dy="1.35">2</tspan><tspan dy="-1.35">FC</tspan></text>
<text x="142.00" y="314.88" font-size="4.5" font-weight="bold" transform="rotate(0.05 142.0 314.9)">Log<tspan font-size="2.97" dy="1.35">2</tspan><tspan dy="-1.35">FC</tspan></text>
<text x="193.00" y="168.16" font-size="6.84" font-weight="bold" transform="rotate(0.05 193.0 168.2)">(C) LIHC</text>
<text x="212.50" y="185.42" font-size="5.2" stroke-width="0.05" transform="rotate(0.05 212.5 185.4)">Target gene</text>
<text x="293.70" y="185.76" font-size="5.34" stroke-width="0.05" transform="rotate(0.05 293.7 185.8)">miRNA</text>
<text x="243.20" y="196.56" font-size="3.5" stroke-width="0.09" transform="rotate(0.05 243.2 196.6)">KLF4</text>
<text x="264.40" y="196.58" font-size="3.59" stroke-width="0.09" transform="rotate(0.05 264.4 196.6)">hsa-miR-106b-5p</text>
<text x="243.20" y="204.64" font-size="3.5" stroke-width="0.09" transform="rotate(0.05 243.2 204.6)">FOXO1</text>
<text x="264.40" y="204.66" font-size="3.59" stroke-width="0.09" transform="rotate(0.05 264.4 204.7)">hsa-miR-183-5p</text>
<text x="243.20" y="212.72" font-size="3.5" stroke-width="0.09" transform="rotate(0.05 243.2 212.7)">SLAIN1</text>
<text x="264.40" y="212.74" font-size="3.59" stroke-width="0.09" transform="rotate(0.05 264.4 212.7)">hsa-miR-183-5p</text>
<text x="243.20" y="220.80" font-size="3.5" stroke-width="0.09" transform="rotate(0.05 243.2 220.8)">C21orf91</text>
<text x="264.40" y="220.82" font-size="3.59" stroke-width="0.09" transform="rotate(0.05 264.4 220.8)">hsa-miR-182-5p</text>
<text x="243.20" y="228.88" font-size="3.5" stroke-width="0.09" transform="rotate(0.05 243.2 228.9)">FOXO1</text>
<text x="264.40" y="228.90" font-size="3.59" stroke-width="0.09" transform="rotate(0.05 264.4 228.9)">hsa-miR-96-5p</text>
<text x="243.20" y="236.96" font-size="3.5" stroke-width="0.09" transform="rotate(0.05 243.2 237.0)">SATB1</text>
<text x="264.40" y="236.98" font-size="3.59" stroke-width="0.09" transform="rotate(0.05 264.4 237.0)">hsa-miR-21-5p</text>
<text x="243.20" y="245.03" font-size="3.5" stroke-width="0.09" transform="rotate(0.05 243.2 245.0)">FAM13A</text>
<text x="264.40" y="245.06" font-size="3.59" stroke-width="0.09" transform="rotate(0.05 264.4 245.1)">hsa-miR-21-5p</text>
<text x="199.50" y="252.89" font-size="3.3" text-anchor="middle" fill="#444" stroke="#444" transform="rotate(0.05 199.5 252.9)">-3</text>
<text x="213.10" y="252.89" font-size="3.3" text-anchor="middle" fill="#444" stroke="#444" transform="rotate(0.05 213.1 252.9)">-2</text>
<text x="227.60" y="252.89" font-size="3.3" text-anchor="middle" fill="#444" stroke="#444" transform="rotate(0.05 227.6 252.9)">-1</text>
<text x="241.80" y="252.89" font-size="3.3" text-anchor="middle" fill="#444" stroke="#444" transform="rotate(0.05 241.8 252.9)">0</text>
<text x="294.50" y="252.89" font-size="3.3" text-anchor="middle" fill="#444" stroke="#444" transform="rotate(0.05 294.5 252.9)">0</text>
<text x="309.20" y="252.89" font-size="3.3" text-anchor="middle" fill="#444" stroke="#444" transform="rotate(0.05 309.2 252.9)">1</text>
<text x="323.90" y="252.89" font-size="3.3" text-anchor="middle" fill="#444" stroke="#444" transform="rotate(0.05 323.9 252.9)">2</text>
<text x="338.30" y="252.89" font-size="3.3" text-anchor="middle" fill="#444" stroke="#444" transform="rotate(0.05 338.3 252.9)">3</text>
<text x="210.70" y="258.78" font-size="4.8" font-weight="bold" transform="rotate(0.05 210.7 258.8)">Log<tspan font-size="3.17" dy="1.44">2</tspan><tspan dy="-1.44">FC</tspan></text>
<text x="306.60" y="259.78" font-size="4.8" font-weight="bold" transform="rotate(0.05 306.6 259.8)">Log<tspan font-size="3.17" dy="1.44">2</tspan><tspan dy="-1.44">FC</tspan></text>
<text x="406.70" y="175.78" font-size="5.4" stroke-width="0.05" transform="rotate(0.05 406.7 175.8)">miRNA</text>
<text x="482.20" y="176.71" font-size="5.17" stroke-width="0.05" transform="rotate(0.05 482.2 176.7)">Target genes</text>
<text x="428.80" y="185.77" font-size="3.86" stroke-width="0.09" transform="rotate(0.05 428.8 185.8)">hsa-let-7c-5p</text>
<text x="463.80" y="185.72" font-size="3.7" stroke-width="0.09" transform="rotate(0.05 463.8 185.7)">LOXL2</text>
<text x="428.80" y="191.78" font-size="3.86" stroke-width="0.09" transform="rotate(0.05 428.8 191.8)">hsa-let-7c-5p</text>
<text x="463.80" y="191.73" font-size="3.7" stroke-width="0.09" transform="rotate(0.05 463.8 191.7)">ARID5A</text>
<text x="428.80" y="197.78" font-size="3.86" stroke-width="0.09" transform="rotate(0.05 428.8 197.8)">hsa-let-7c-5p</text>
<text x="463.80" y="197.73" font-size="3.7" stroke-width="0.09" transform="rotate(0.05 463.8 197.7)">HMGA2</text>
<text x="428.80" y="203.79" font-size="3.86" stroke-width="0.09" transform="rotate(0.05 428.8 203.8)">hsa-miR-490-3p</text>
<text x="463.80" y="203.74" font-size="3.7" stroke-width="0.09" transform="rotate(0.05 463.8 203.7)">NEK2</text>
<text x="428.80" y="209.79" font-size="3.86" stroke-width="0.09" transform="rotate(0.05 428.8 209.8)">hsa-miR-490-3p</text>
<text x="463.80" y="209.74" font-size="3.7" stroke-width="0.09" transform="rotate(0.05 463.8 209.7)">CSPG5</text>
<text x="428.80" y="215.80" font-size="3.86" stroke-width="0.09" transform="rotate(0.05 428.8 215.8)">hsa-miR-139-5p</text>
<text x="463.80" y="215.75" font-size="3.7" stroke-width="0.09" transform="rotate(0.05 463.8 215.7)">MAD2L1</text>
<text x="428.80" y="221.80" font-size="3.86" stroke-width="0.09" transform="rotate(0.05 428.8 221.8)">hsa-miR-139-5p</text>
<text x="463.80" y="221.75" font-size="3.7" stroke-width="0.09" transform="rotate(0.05 463.8 221.8)">KIF18B</text>
<text x="428.80" y="227.81" font-size="3.86" stroke-width="0.09" transform="rotate(0.05 428.8 227.8)">hsa-miR-139-5p</text>
<text x="463.80" y="227.76" font-size="3.7" stroke-width="0.09" transform="rotate(0.05 463.8 227.8)">PCLAF</text>
<text x="428.80" y="233.81" font-size="3.86" stroke-width="0.09" transform="rotate(0.05 428.8 233.8)">hsa-miR-493-3p</text>
<text x="463.80" y="233.76" font-size="3.7" stroke-width="0.09" transform="rotate(0.05 463.8 233.8)">MKI67</text>
<text x="428.80" y="239.82" font-size="3.86" stroke-width="0.09" transform="rotate(0.05 428.8 239.8)">hsa-miR-493-3p</text>
<text x="463.80" y="239.77" font-size="3.7" stroke-width="0.09" transform="rotate(0.05 463.8 239.8)">TRIM31</text>
<text x="428.80" y="245.82" font-size="3.86" stroke-width="0.09" transform="rotate(0.05 428.8 245.8)">hsa-miR-424-5p</text>
<text x="463.80" y="245.77" font-size="3.7" stroke-width="0.09" transform="rotate(0.05 463.8 245.8)">APLN</text>
<text x="428.80" y="251.83" font-size="3.86" stroke-width="0.09" transform="rotate(0.05 428.8 251.8)">hsa-miR-424-5p</text>
<text x="463.80" y="251.78" font-size="3.7" stroke-width="0.09" transform="rotate(0.05 463.8 251.8)">E2F7</text>
<text x="428.80" y="257.83" font-size="3.86" stroke-width="0.09" transform="rotate(0.05 428.8 257.8)">hsa-miR-424-5p</text>
<text x="463.80" y="257.78" font-size="3.7" stroke-width="0.09" transform="rotate(0.05 463.8 257.8)">PLK1</text>
<text x="428.80" y="263.84" font-size="3.86" stroke-width="0.09" transform="rotate(0.05 428.8 263.8)">hsa-miR-424-5p</text>
<text x="463.80" y="263.79" font-size="3.7" stroke-width="0.09" transform="rotate(0.05 463.8 263.8)">CCNE1</text>
<text x="428.80" y="269.84" font-size="3.86" stroke-width="0.09" transform="rotate(0.05 428.8 269.8)">hsa-miR-424-5p</text>
<text x="463.80" y="269.79" font-size="3.7" stroke-width="0.09" transform="rotate(0.05 463.8 269.8)">CDC25A</text>
<text x="428.80" y="275.85" font-size="3.86" stroke-width="0.09" transform="rotate(0.05 428.8 275.8)">hsa-miR-424-5p</text>
<text x="463.80" y="275.80" font-size="3.7" stroke-width="0.09" transform="rotate(0.05 463.8 275.8)">UBE2S</text>
<text x="428.80" y="281.85" font-size="3.86" stroke-width="0.09" transform="rotate(0.05 428.8 281.9)">hsa-miR-424-5p</text>
<text x="463.80" y="281.80" font-size="3.7" stroke-width="0.09" transform="rotate(0.05 463.8 281.8)">MEOX2</text>
<text x="428.80" y="287.86" font-size="3.86" stroke-width="0.09" transform="rotate(0.05 428.8 287.9)">hsa-miR-424-5p</text>
<text x="463.80" y="287.81" font-size="3.7" stroke-width="0.09" transform="rotate(0.05 463.8 287.8)">SNCG</text>
<text x="428.80" y="293.86" font-size="3.86" stroke-width="0.09" transform="rotate(0.05 428.8 293.9)">hsa-miR-424-5p</text>
<text x="463.80" y="293.81" font-size="3.7" stroke-width="0.09" transform="rotate(0.05 463.8 293.8)">CHEK1</text>
<text x="428.80" y="299.87" font-size="3.86" stroke-width="0.09" transform="rotate(0.05 428.8 299.9)">hsa-miR-424-5p</text>
<text x="463.80" y="299.82" font-size="3.7" stroke-width="0.09" transform="rotate(0.05 463.8 299.8)">HMGA1</text>
<text x="379.00" y="306.39" font-size="3.3" text-anchor="middle" fill="#444" stroke="#444" transform="rotate(0.05 379.0 306.4)">-2</text>
<text x="402.70" y="306.39" font-size="3.3" text-anchor="middle" fill="#444" stroke="#444" transform="rotate(0.05 402.7 306.4)">-1</text>
<text x="426.80" y="306.39" font-size="3.3" text-anchor="middle" fill="#444" stroke="#444" transform="rotate(0.05 426.8 306.4)">0</text>
<text x="480.20" y="306.69" font-size="3.3" text-anchor="middle" fill="#444" stroke="#444" transform="rotate(0.05 480.2 306.7)">0</text>
<text x="494.60" y="306.69" font-size="3.3" text-anchor="middle" fill="#444" stroke="#444" transform="rotate(0.05 494.6 306.7)">1</text>
<text x="508.90" y="306.69" font-size="3.3" text-anchor="middle" fill="#444" stroke="#444" transform="rotate(0.05 508.9 306.7)">2</text>
<text x="523.30" y="306.69" font-size="3.3" text-anchor="middle" fill="#444" stroke="#444" transform="rotate(0.05 523.3 306.7)">3</text>
<text x="537.80" y="306.69" font-size="3.3" text-anchor="middle" fill="#444" stroke="#444" transform="rotate(0.05 537.8 306.7)">4</text>
<text x="399.70" y="314.78" font-size="4.8" font-weight="bold" transform="rotate(0.05 399.7 314.8)">Log<tspan font-size="3.17" dy="1.44">2</tspan><tspan dy="-1.44">FC</tspan></text>
<text x="500.80" y="315.18" font-size="4.8" font-weight="bold" transform="rotate(0.05 500.8 315.2)">Log<tspan font-size="3.17" dy="1.44">2</tspan><tspan dy="-1.44">FC</tspan></text>
</svg>
</body></html>
